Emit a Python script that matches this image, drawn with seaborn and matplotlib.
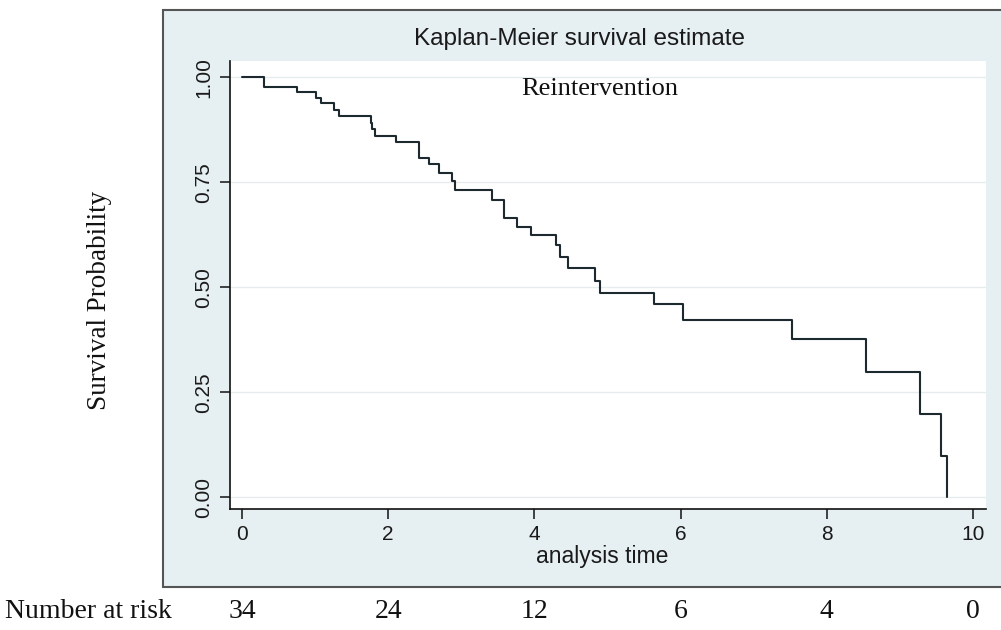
import matplotlib
matplotlib.use("Agg")
import matplotlib.pyplot as plt
import matplotlib.transforms as mtransforms
from matplotlib.patches import Rectangle
import seaborn as sns
import pandas as pd

# ---- data ----
time = [0, 0.30, 0.75, 1.01, 1.08, 1.26, 1.33, 1.76, 1.78, 1.82, 2.11, 2.42,
        2.56, 2.70, 2.87, 2.92, 3.42, 3.59, 3.76, 3.95, 4.29, 4.35, 4.46,
        4.83, 4.90, 5.63, 6.03, 7.52, 8.54, 9.28, 9.56, 9.64]
survival = [1.0, 0.977, 0.965, 0.951, 0.938, 0.921, 0.908, 0.892, 0.876, 0.860,
            0.846, 0.809, 0.793, 0.771, 0.753, 0.732, 0.707, 0.664, 0.643,
            0.625, 0.600, 0.572, 0.547, 0.515, 0.487, 0.460, 0.423, 0.376,
            0.298, 0.199, 0.098, 0.0]
risk_times = [0, 2, 4, 6, 8, 10]
at_risk = [34, 24, 12, 6, 4, 0]
x_ticks = [0, 2, 4, 6, 8, 10]
y_ticks = [0.0, 0.25, 0.50, 0.75, 1.00]
y_tick_labels = ["0.00", "0.25", "0.50", "0.75", "1.00"]

sns.set_theme(style="white")
plt.rcParams["font.family"] = ["Liberation Sans", "DejaVu Sans"]
SERIF = ["Liberation Serif", "DejaVu Serif"]

W, H = 1001, 630
fig = plt.figure(figsize=(W / 100, H / 100), dpi=100)
fig.patch.set_facecolor("white")

# outer graph region (light bluish gray panel)
panel = Rectangle((163 / W, 1 - 587 / H), 1.2, (587 - 10) / H,
                  transform=fig.transFigure, facecolor="#e6eff2",
                  edgecolor="#555555", lw=1.5, zorder=-5)
fig.patches.append(panel)

ax = fig.add_axes([230 / W, (H - 509.3) / H, (986 - 230) / W, (509.3 - 61) / H])
ax.set_zorder(2)
ax.set_facecolor("white")

df = pd.DataFrame({"time": time, "survival": survival})
sns.lineplot(data=df, x="time", y="survival", drawstyle="steps-post",
             estimator=None, color="#1c2a30", lw=1.5, ax=ax)

ax.set_xlim(-0.164, 10.178)
ax.set_ylim(-0.0286, 1.0388)
ax.set_xticks(x_ticks)
ax.set_xticklabels([str(v) for v in x_ticks])
ax.set_yticks(y_ticks)
ax.set_yticklabels(y_tick_labels, rotation=90, va="center")

ax.yaxis.grid(True, color="#e6ecee", lw=1.0)
ax.xaxis.grid(False)
ax.set_axisbelow(True)

for s in ["top", "right"]:
    ax.spines[s].set_visible(False)
for s in ["left", "bottom"]:
    ax.spines[s].set_color("#111111")
    ax.spines[s].set_linewidth(1.2)

ax.tick_params(axis="both", direction="out", length=7, width=1.1,
               color="#111111", labelsize=15, labelcolor="#1a1a1a",
               left=True, bottom=True)
ax.tick_params(axis="x", pad=4)
ax.tick_params(axis="y", pad=5)

ax.set_ylabel("")
ax.set_xlabel("analysis time", fontsize=16.5, color="#1a1a1a")
ax.xaxis.set_label_coords((602 - 230) / 756, (509.3 - 557) / 448.3)
ax.xaxis.label.set_va("center")

fig.text(579 / W, 1 - 39 / H, "Kaplan-Meier survival estimate",
         ha="center", va="center", fontsize=17.5, color="#1a1a1a", zorder=3)
fig.text(600 / W, 1 - 89 / H, "Reintervention", ha="center", va="center",
         fontsize=19, family=SERIF, color="#111111", zorder=3)
fig.text(99 / W, 1 - 300 / H, "Survival Probability", rotation=90,
         ha="center", va="center", fontsize=19.5, family=SERIF, color="#111111")

# number at risk table
fig.text(5 / W, 1 - 612 / H, "Number at risk", ha="left", va="center",
         fontsize=20, family=SERIF, color="#111111")
trans = mtransforms.blended_transform_factory(ax.transData, fig.transFigure)
for t, n in zip(risk_times, at_risk):
    ax.text(t, 1 - 612 / H, str(n), transform=trans, ha="center", va="center",
            fontsize=20, family=SERIF, color="#111111", clip_on=False)

fig.savefig("out.png", dpi=100)
